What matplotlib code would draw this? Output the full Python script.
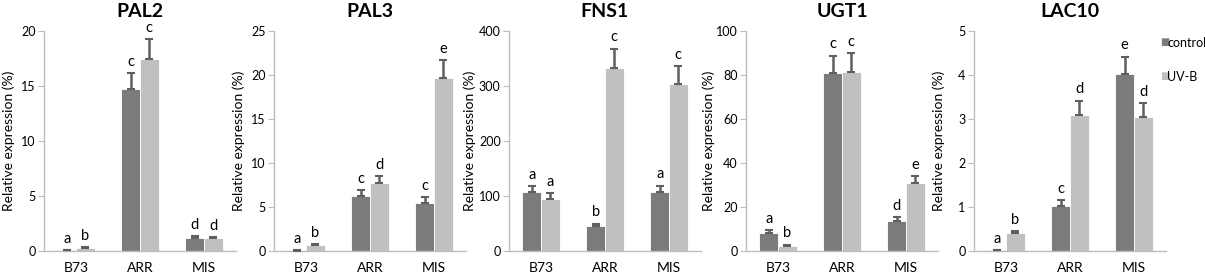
import numpy as np
import matplotlib
matplotlib.use('Agg')
import matplotlib.pyplot as plt

plt.rcParams['font.family'] = ['Lato', 'DejaVu Sans']

# data
lines = ['B73', 'ARR', 'MIS']
genes = ['PAL2', 'PAL3', 'FNS1', 'UGT1', 'LAC10']
ymaxes = [20, 25, 400, 100, 5]
ysteps = [5, 5, 100, 20, 1]

ctrl = {
    'PAL2': [0.05, 14.7, 1.2],
    'PAL3': [0.05, 6.2, 5.5],
    'FNS1': [107, 45, 108],
    'UGT1': [8.2, 80.8, 13.7],
    'LAC10': [0.02, 1.03, 4.02],
}
ctrl_err = {
    'PAL2': [0.02, 1.5, 0.15],
    'PAL3': [0.03, 0.7, 0.6],
    'FNS1': [11, 5, 11],
    'UGT1': [1.2, 8.0, 1.7],
    'LAC10': [0.01, 0.12, 0.4],
}
uvb = {
    'PAL2': [0.3, 17.5, 1.15],
    'PAL3': [0.7, 7.7, 19.7],
    'FNS1': [95, 333, 304],
    'UGT1': [2.4, 81.5, 30.7],
    'LAC10': [0.4, 3.1, 3.05],
}
uvb_err = {
    'PAL2': [0.05, 1.8, 0.15],
    'PAL3': [0.1, 0.8, 2.0],
    'FNS1': [10, 35, 32],
    'UGT1': [0.5, 8.5, 3.3],
    'LAC10': [0.05, 0.32, 0.32],
}
ctrl_letters = {
    'PAL2': ['a', 'c', 'd'],
    'PAL3': ['a', 'c', 'c'],
    'FNS1': ['a', 'b', 'a'],
    'UGT1': ['a', 'c', 'd'],
    'LAC10': ['a', 'c', 'e'],
}
uvb_letters = {
    'PAL2': ['b', 'c', 'd'],
    'PAL3': ['b', 'd', 'e'],
    'FNS1': ['a', 'c', 'c'],
    'UGT1': ['b', 'c', 'e'],
    'LAC10': ['b', 'd', 'd'],
}

darkColor = '#7b7b7b'
lightColor = '#c0c0c0'
errColor = '#5f5f5f'
spineColor = '#bdbdbd'
W, H = 1205, 275

fig = plt.figure(figsize=(W / 100, H / 100), dpi=100)
lefts = [44, 274, 509, 746, 974]
labelOffsets = [29, 29, 33, 31, 29]
axw = 192
x = np.arange(len(lines))
bw = 0.29

for i, g in enumerate(genes):
    ax = fig.add_axes([lefts[i] / W, 24 / H, axw / W, 220 / H])
    c = np.array(ctrl[g])
    u = np.array(uvb[g])
    ce = np.array(ctrl_err[g])
    ue = np.array(uvb_err[g])
    ax.bar(x - bw / 2, c, bw, color=darkColor, edgecolor='white', linewidth=0.6, zorder=2)
    ax.bar(x + bw / 2, u, bw, color=lightColor, edgecolor='white', linewidth=0.6, zorder=2)
    ax.errorbar(x - bw / 2, c, yerr=[np.zeros(3), ce], fmt='none', ecolor=errColor,
                elinewidth=1.8, capsize=3, capthick=1.5, zorder=3)
    ax.errorbar(x + bw / 2, u, yerr=[np.zeros(3), ue], fmt='none', ecolor=errColor,
                elinewidth=1.8, capsize=3, capthick=1.5, zorder=3)
    for j in range(3):
        ax.annotate(ctrl_letters[g][j], (x[j] - bw / 2, c[j] + ce[j]), xytext=(0, 3),
                    textcoords='offset points', ha='center', va='bottom', fontsize=10.5)
        ax.annotate(uvb_letters[g][j], (x[j] + bw / 2, u[j] + ue[j]), xytext=(0, 3),
                    textcoords='offset points', ha='center', va='bottom', fontsize=10.5)
    ax.set_xlim(-0.5, 2.5)
    ax.set_ylim(0, ymaxes[i])
    ax.set_yticks(np.arange(0, ymaxes[i] + ysteps[i] / 2, ysteps[i]))
    ax.set_xticks(x)
    ax.set_xticklabels(lines)
    ax.tick_params(axis='x', length=0, pad=8, labelsize=10)
    ax.tick_params(axis='y', length=4, color=spineColor, labelsize=9, pad=2)
    for s in ['top', 'right']:
        ax.spines[s].set_visible(False)
    for s in ['left', 'bottom']:
        ax.spines[s].set_color(spineColor)
        ax.spines[s].set_linewidth(1.0)
    ax.set_ylabel('Relative expression (%)', fontsize=10)
    ax.yaxis.set_label_coords(-labelOffsets[i] / axw, 0.5)
    ax.set_title(g, fontsize=14, fontweight='bold', pad=10)

# legend on the right of the last panel
fig.text(1160 / W, 1 - 43 / H, '■', color=darkColor, fontsize=7, va='center', ha='left')
fig.text(1167 / W, 1 - 43 / H, 'control', fontsize=9, va='center', ha='left')
fig.text(1160 / W, 1 - 77 / H, '■', color=lightColor, fontsize=7, va='center', ha='left')
fig.text(1167 / W, 1 - 77 / H, 'UV-B', fontsize=9, va='center', ha='left')

fig.savefig('out.png', dpi=100)
